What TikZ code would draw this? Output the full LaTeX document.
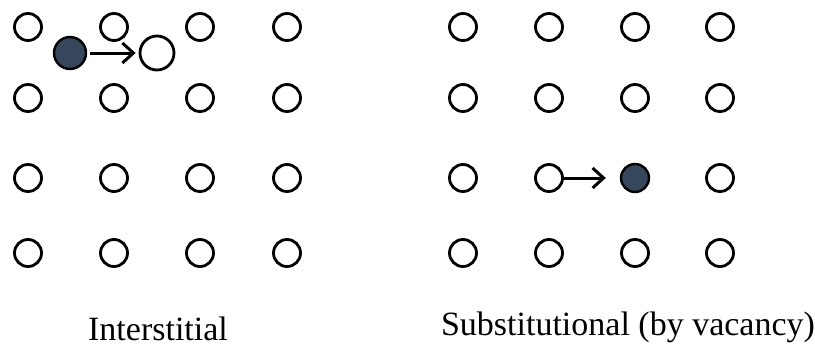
\documentclass[tikz,border=0pt]{standalone}
\usepackage{fontspec}
\setmainfont{Liberation Serif}
\usetikzlibrary{arrows.meta}
\definecolor{atomfill}{rgb}{0.21,0.28,0.36}
\tikzset{
 site/.style={draw,circle,line width=2.8pt,minimum size=27pt,inner sep=0pt},
 atom/.style={draw,circle,fill=atomfill,line width=2.4pt,inner sep=0pt},
 jump/.style={-{Straight Barb[length=11pt,width=20pt,line width=3pt]},line width=3pt},
 caption/.style={font=\fontsize{34}{38}\selectfont,inner sep=0pt}
}

\begin{document}
\begin{tikzpicture}[x=1pt,y=-1pt]
\useasboundingbox (0,0) rectangle (815,351);
\foreach \r/\y in {1/27,2/98,3/178,4/253} {
 \foreach \c/\xl/\xs in {1/28/463,2/114/549,3/200/635,4/287/720} {
  \node[site] (l\r\c) at (\xl,\y) {};
  \ifnum\r\c=33
   \node[atom,minimum size=28pt] (s\r\c) at (\xs,\y) {};
  \else
   \node[site] (s\r\c) at (\xs,\y) {};
  \fi
 }
}
% interstitial jump
\node[atom,minimum size=32pt] (hop) at (70,53) {};
\node[site,minimum size=34pt] (gap) at (157,53) {};
\draw[jump,shorten <=3pt,shorten >=3pt] (hop) -- (gap);
% vacancy jump
\draw[jump,shorten >=14pt] (s32) -- (s33);

\node[caption] (capl) at (158,329) {Interstitial};
\node[caption] (capr) at (628,327) {Substitutional (by vacancy)};
\end{tikzpicture}
\end{document}
